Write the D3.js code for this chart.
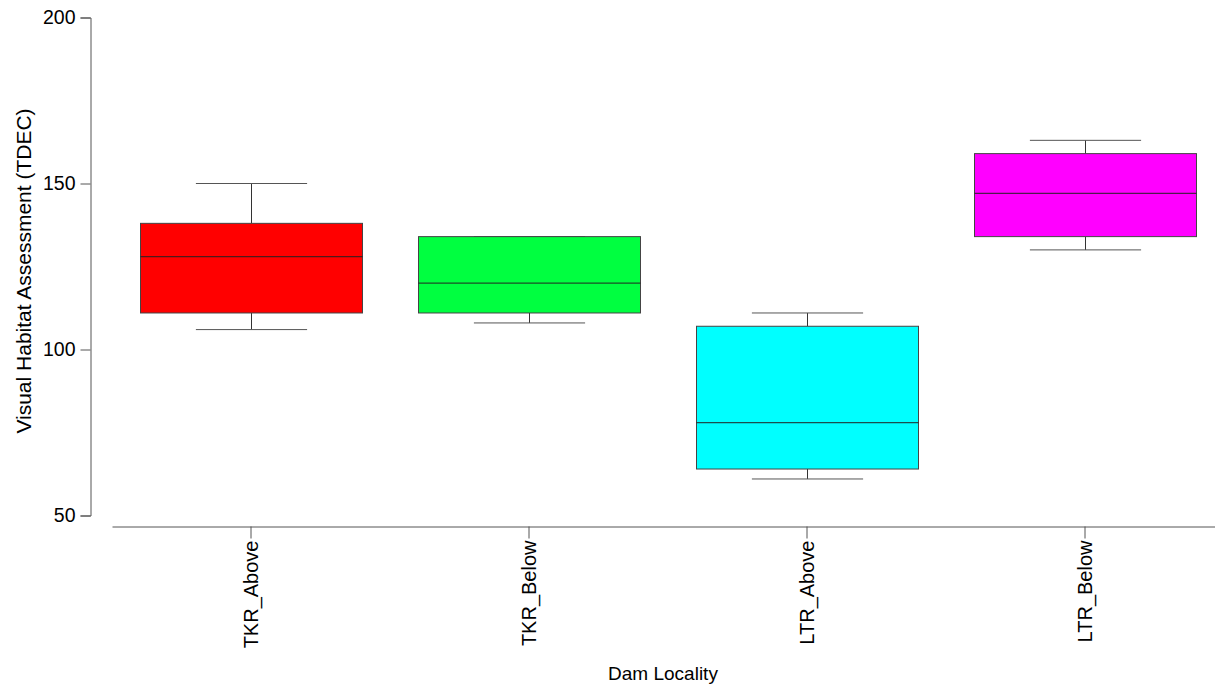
<!DOCTYPE html>
<html>
<head>
<meta charset="utf-8">
<script src="https://cdn.jsdelivr.net/npm/d3@7"></script>
<style>
  html, body { margin: 0; padding: 0; background: #fff; }
  svg { display: block; font-family: "Liberation Sans", Arial, sans-serif; }
</style>
</head>
<body>
<svg id="chart" width="1215" height="686"></svg>
<script>
// Dam localities and their five-number summaries (TDEC visual habitat score)
const categories = ["TKR_Above", "TKR_Below", "LTR_Above", "LTR_Below"];
const whiskerLow = [106, 108, 61, 130];
const quartile1  = [111, 111, 64, 134];
const medians    = [128, 120, 78, 147];
const quartile3  = [138, 134, 107, 159];
const whiskerHigh = [150, 134, 111, 163];
const fills = ["#ff0000", "#00ff40", "#00ffff", "#ff00ff"];
const yTicks = [50, 100, 150, 200];

const svg = d3.select("#chart");

const x = d3.scaleBand()
  .domain(categories)
  .range([112, 1224])
  .paddingInner(0.2)
  .paddingOuter(0.1);

const y = d3.scaleLinear()
  .domain([50, 200])
  .range([515.5, 17.5]);

const axisColor = "#555";

// Y axis
const yAxis = svg.append("g")
  .attr("transform", "translate(90.5,0)")
  .call(d3.axisLeft(y).tickValues(yTicks).tickSize(10).tickPadding(5).tickFormat(d3.format("d")));
yAxis.select(".domain").attr("stroke", axisColor);
yAxis.selectAll(".tick line").attr("stroke", axisColor);
yAxis.selectAll(".tick text")
  .attr("fill", "#000")
  .style("font-size", "19.5px")
  .style("font-family", "Liberation Sans, Arial, sans-serif");

// X axis
const xAxis = svg.append("g")
  .attr("transform", "translate(0,526.5)")
  .call(d3.axisBottom(x).tickSize(12).tickSizeOuter(0).tickPadding(2));
xAxis.select(".domain").attr("stroke", axisColor);
xAxis.selectAll(".tick line").attr("stroke", axisColor);
xAxis.selectAll(".tick text")
  .attr("fill", "#000")
  .style("font-size", "20px")
  .style("font-family", "Liberation Sans, Arial, sans-serif")
  .attr("text-anchor", "end")
  .attr("dy", "0.35em")
  .attr("transform", "translate(0,14) rotate(-90)")
  .attr("x", 0)
  .attr("y", 0);

// Boxes
const rows = categories.map((c, i) => ({
  cat: c, lo: whiskerLow[i], q1: quartile1[i], med: medians[i],
  q3: quartile3[i], hi: whiskerHigh[i], fill: fills[i]
}));

const g = svg.append("g");
const bw = x.bandwidth();

rows.forEach(r => {
  const x0 = x(r.cat);
  const cx = Math.round(x0 + bw / 2) + 0.5;
  const capHalf = bw / 4;

  // whisker stems
  g.append("line")
    .attr("x1", cx).attr("x2", cx)
    .attr("y1", y(r.hi)).attr("y2", y(r.q3))
    .attr("stroke", "#333").attr("stroke-width", 1);
  g.append("line")
    .attr("x1", cx).attr("x2", cx)
    .attr("y1", y(r.q1)).attr("y2", y(r.lo))
    .attr("stroke", "#333").attr("stroke-width", 1);

  // whisker caps
  [r.hi, r.lo].forEach(v => {
    g.append("line")
      .attr("x1", cx - capHalf).attr("x2", cx + capHalf)
      .attr("y1", y(v)).attr("y2", y(v))
      .attr("stroke", "#555").attr("stroke-width", 1);
  });

  // box
  g.append("rect")
    .attr("x", Math.round(x0) + 0.5)
    .attr("y", y(r.q3))
    .attr("width", Math.round(bw))
    .attr("height", y(r.q1) - y(r.q3))
    .attr("fill", r.fill)
    .attr("stroke", "#444")
    .attr("stroke-width", 1);

  // median
  g.append("line")
    .attr("x1", Math.round(x0) + 0.5).attr("x2", Math.round(x0) + 0.5 + Math.round(bw))
    .attr("y1", y(r.med)).attr("y2", y(r.med))
    .attr("stroke", "#222").attr("stroke-width", 1.2)
    .attr("stroke-opacity", 0.8);
});

// Axis titles
svg.append("text")
  .attr("x", 663).attr("y", 680)
  .attr("text-anchor", "middle")
  .style("font-size", "19px")
  .attr("fill", "#000")
  .text("Dam Locality");

svg.append("text")
  .attr("transform", "translate(31,271) rotate(-90)")
  .attr("text-anchor", "middle")
  .style("font-size", "21px")
  .attr("fill", "#000")
  .text("Visual Habitat Assessment (TDEC)");
</script>
</body>
</html>
